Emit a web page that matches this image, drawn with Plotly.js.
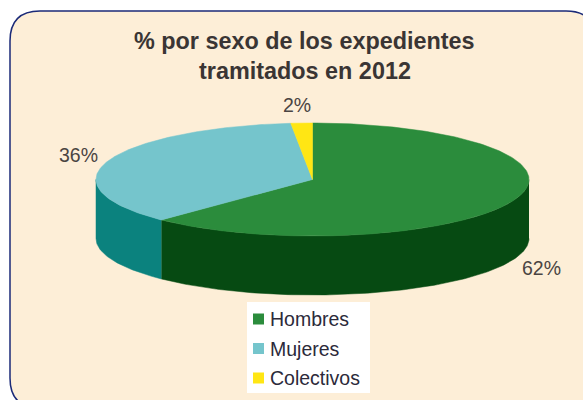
<!DOCTYPE html>
<html>
<head>
<meta charset="utf-8">
<script src="https://cdn.plot.ly/plotly-3.0.1.min.js"></script>
<style>html,body{margin:0;padding:0;background:#fff}#chart{width:583px;height:400px}</style>
</head>
<body>
<div id="chart"></div>
<script>
const categories = ["Hombres", "Mujeres", "Colectivos"];
const shares = [62.3, 36.1, 1.6];
const topColors = ["#2B8C3C", "#75C5CC", "#FFE614"];
const sideColors = ["#064A12", "#0B827E", "#C9B400"];
const titleLines = ["% por sexo de los expedientes", "tramitados en 2012"];

// Pie geometry (layout only)
const cx = 312.5, cy = 179.5, rx = 216.5, ry = 56.5, depth = 59;
const labelPos = [[541, 268], [78, 155], [297, 105]];
const total = shares.reduce((a, b) => a + b, 0);

const px = deg => cx + rx * Math.sin(deg * Math.PI / 180);
const py = deg => cy - ry * Math.cos(deg * Math.PI / 180);

function arc(a, b) {
  const out = [];
  const n = Math.max(2, Math.ceil(Math.abs(b - a)));
  for (let i = 0; i <= n; i++) out.push(a + (b - a) * i / n);
  return out;
}

const traces = [];
let start = 0;
const sliceTraces = [];
categories.forEach((name, i) => {
  const end = start + shares[i] / total * 360;
  const a = Math.max(start, 90), b = Math.min(end, 270);
  if (b > a) {
    const top = arc(a, b);
    const bottom = arc(b, a);
    traces.push({
      type: "scatter", mode: "lines", fill: "toself", fillcolor: sideColors[i],
      x: top.map(px).concat(bottom.map(px)),
      y: top.map(py).concat(bottom.map(d => py(d) + depth)),
      line: { width: 0.5, color: sideColors[i] }, hoverinfo: "skip", showlegend: false
    });
  }
  const face = arc(start, end);
  sliceTraces.push({
    type: "scatter", mode: "lines", fill: "toself", fillcolor: topColors[i], name: name,
    x: [cx].concat(face.map(px), [cx]),
    y: [cy].concat(face.map(py), [cy]),
    line: { width: 0.5, color: topColors[i] }, hoverinfo: "name", showlegend: false
  });
  start = end;
});
traces.push(...sliceTraces);

// Legend swatches
const legendX = 258.5, legendY = 319, legendStep = 29.5;
categories.forEach((name, i) => {
  traces.push({
    type: "scatter", mode: "markers", name: name, showlegend: false, hoverinfo: "name",
    x: [legendX], y: [legendY + i * legendStep],
    marker: { symbol: "square", size: 11, color: topColors[i] }
  });
});

const textColor = "#3A3534";
const fam = "Liberation Sans, Arial, sans-serif";
const annotations = [];
titleLines.forEach((t, i) => annotations.push({
  xref: "x", yref: "y", x: 304.5, y: 41 + i * 30, text: "<b>" + t + "</b>", showarrow: false,
  font: { family: fam, size: 23.4, color: textColor },
  xanchor: "center", yanchor: "middle"
}));
categories.forEach((name, i) => {
  annotations.push({
    xref: "x", yref: "y", x: labelPos[i][0], y: labelPos[i][1],
    text: Math.round(shares[i]) + "%", showarrow: false,
    font: { family: fam, size: 19.5, color: "#4A4442" },
    xanchor: "center", yanchor: "middle"
  });
  annotations.push({
    xref: "x", yref: "y", x: 270, y: legendY + i * legendStep,
    text: name, showarrow: false,
    font: { family: fam, size: 19.5, color: "#2C2A3A" },
    xanchor: "left", yanchor: "middle", xshift: -2
  });
});

const L = 10, T = 11, R = 596, B = 408, C = 30;
const border = `M${L + C},${T} L${R - C},${T} Q${R},${T} ${R},${T + C} L${R},${B - C} Q${R},${B} ${R - C},${B} L${L + C},${B} Q${L},${B} ${L},${B - C} L${L},${T + C} Q${L},${T} ${L + C},${T} Z`;

const layout = {
  width: 583, height: 400, margin: { l: 0, r: 0, t: 0, b: 0 },
  paper_bgcolor: "#FFFFFF", plot_bgcolor: "rgba(0,0,0,0)", showlegend: false,
  xaxis: { range: [0, 583], visible: false, fixedrange: true },
  yaxis: { range: [400, 0], visible: false, fixedrange: true },
  shapes: [
    { type: "path", path: border, xref: "x", yref: "y", layer: "below",
      fillcolor: "#FDEED7", line: { color: "#1B2A78", width: 1.5 } },
    { type: "rect", xref: "x", yref: "y", x0: 247, x1: 370, y0: 302, y1: 393, layer: "below",
      fillcolor: "#FFFFFF", line: { width: 0 } }
  ],
  annotations: annotations
};

Plotly.newPlot("chart", traces, layout, { displayModeBar: false, staticPlot: true });
</script>
</body>
</html>
